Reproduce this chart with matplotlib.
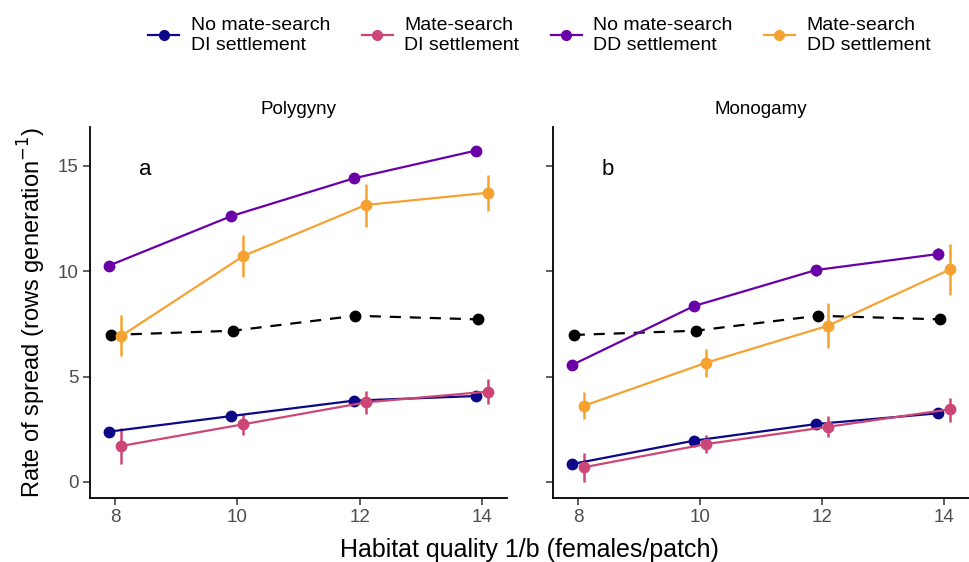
import numpy as np
import matplotlib.pyplot as plt
from matplotlib.lines import Line2D

plt.rcParams['font.family'] = ['Liberation Sans', 'DejaVu Sans']

quality = np.array([8, 10, 12, 14])
panels = ['Polygyny', 'Monogamy']
panel_tags = ['a', 'b']

labels = ['No mate-search\nDI settlement', 'Mate-search\nDI settlement',
          'No mate-search\nDD settlement', 'Mate-search\nDD settlement']
colors = ['#0d0887', '#cc4778', '#6a00a8', '#f5a231']
dodge = [-0.1, 0.1, -0.1, 0.1]

# mean rate of spread, per panel, per series (same order as labels)
means = {
    'Polygyny': [
        [2.39, 3.13, 3.86, 4.08],
        [1.71, 2.74, 3.78, 4.29],
        [10.27, 12.62, 14.41, 15.73],
        [6.93, 10.73, 13.15, 13.73],
    ],
    'Monogamy': [
        [0.85, 1.96, 2.75, 3.26],
        [0.70, 1.80, 2.62, 3.45],
        [5.55, 8.35, 10.06, 10.82],
        [3.62, 5.66, 7.42, 10.09],
    ],
}
# lower / upper ends of the error bars
lower = {
    'Polygyny': [
        [2.30, 3.05, 3.78, 3.98],
        [0.85, 2.23, 3.23, 3.69],
        [10.10, 12.42, 14.25, 15.50],
        [5.98, 9.71, 12.12, 12.88],
    ],
    'Monogamy': [
        [0.70, 1.85, 2.65, 3.15],
        [0.00, 1.36, 2.12, 2.86],
        [5.30, 8.10, 9.80, 10.55],
        [2.97, 5.00, 6.35, 8.87],
    ],
}
upper = {
    'Polygyny': [
        [2.48, 3.21, 3.94, 4.18],
        [2.55, 3.23, 4.33, 4.87],
        [10.44, 12.82, 14.57, 15.96],
        [7.93, 11.72, 14.14, 14.57],
    ],
    'Monogamy': [
        [1.00, 2.07, 2.85, 3.37],
        [1.39, 2.23, 3.13, 3.97],
        [5.80, 8.60, 10.32, 11.09],
        [4.28, 6.30, 8.51, 11.30],
    ],
}
# reference line shown in both panels
baseline = [6.98, 7.18, 7.89, 7.72]

fig = plt.figure(figsize=(9.7, 5.62), dpi=100)
axes = [fig.add_axes([90 / 970, 64 / 562, 417 / 970, 371 / 562]),
        fig.add_axes([553 / 970, 64 / 562, 416 / 970, 371 / 562])]

tick_col = '#4d4d4d'
for ax, panel, tag in zip(axes, panels, panel_tags):
    ax.plot(quality - 0.07, baseline, color='black', ls=(0, (5, 4)), lw=1.6,
            marker='o', ms=7.5, zorder=2)
    for i in range(4):
        m = np.array(means[panel][i])
        lo = m - np.array(lower[panel][i])
        hi = np.array(upper[panel][i]) - m
        ax.errorbar(quality + dodge[i], m, yerr=[lo, hi], color=colors[i],
                    lw=1.6, elinewidth=1.8, capsize=0, marker='o', ms=7.5,
                    zorder=3)
    ax.set_xlim(7.59, 14.41)
    ax.set_ylim(-0.76, 16.85)
    ax.set_xticks([8, 10, 12, 14])
    ax.set_yticks([0, 5, 10, 15])
    for s in ['top', 'right']:
        ax.spines[s].set_visible(False)
    for s in ['left', 'bottom']:
        ax.spines[s].set_linewidth(1.3)
    ax.tick_params(labelsize=13.5, labelcolor=tick_col, length=5, width=1.1,
                   color='#333333', pad=3)
    ax.set_title(panel, fontsize=13.5, pad=9)
    ax.text(8.49, 14.85, tag, fontsize=16, ha='center', va='center')

axes[1].tick_params(labelleft=False)
axes[0].set_ylabel('Rate of spread (rows generation$^{-1}$)', fontsize=17,
                   labelpad=7)
fig.text((90 + 969) / 2 / 970, 12 / 562, 'Habitat quality 1/b (females/patch)',
         ha='center', va='center', fontsize=18)

handles = [Line2D([0], [0], color=c, lw=1.6, marker='o', ms=7) for c in colors]
fig.legend(handles, labels, loc='upper center', bbox_to_anchor=(0.556, 1.0),
           ncol=4, frameon=False, fontsize=14, handlelength=1.6,
           columnspacing=1.6, handletextpad=0.6, labelspacing=0.3)

fig.savefig('out.png', dpi=100)
